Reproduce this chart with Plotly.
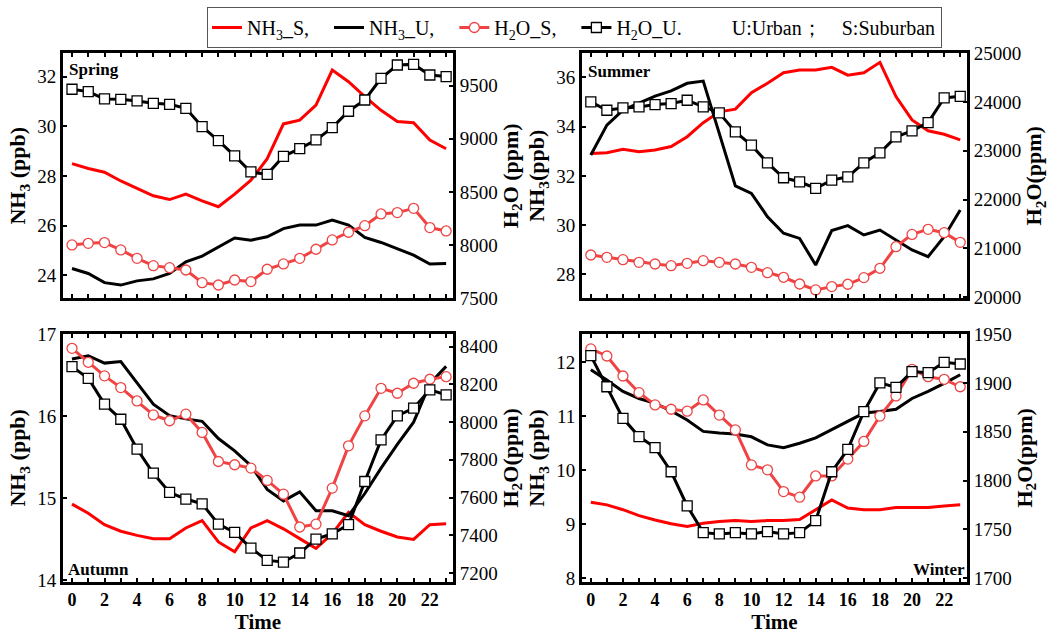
import plotly.graph_objects as go

hours = list(range(24))

# ---- Spring ----
spring_nh3_s = [28.5, 28.3, 28.15, 27.8, 27.5, 27.2, 27.05, 27.27, 27.0, 26.76, 27.27, 27.83, 28.7, 30.1, 30.25, 30.86, 32.27, 31.8, 31.2, 30.65, 30.2, 30.15, 29.45, 29.1]
spring_nh3_u = [24.27, 24.07, 23.7, 23.6, 23.77, 23.85, 24.07, 24.54, 24.77, 25.15, 25.5, 25.41, 25.55, 25.88, 26.02, 26.02, 26.22, 26.02, 25.52, 25.32, 25.08, 24.81, 24.45, 24.47]
spring_h2o_s = [8002, 8017, 8024, 7955, 7876, 7807, 7788, 7766, 7647, 7625, 7672, 7657, 7773, 7823, 7876, 7961, 8049, 8121, 8183, 8293, 8306, 8346, 8165, 8133]
spring_h2o_u = [9466, 9444, 9375, 9371, 9356, 9334, 9324, 9287, 9114, 8983, 8839, 8688, 8666, 8835, 8908, 8989, 9105, 9259, 9365, 9569, 9694, 9700, 9600, 9585]

# ---- Summer ----
summer_nh3_s = [32.91, 32.94, 33.08, 32.98, 33.05, 33.19, 33.59, 34.16, 34.6, 34.71, 35.38, 35.76, 36.19, 36.3, 36.3, 36.41, 36.09, 36.19, 36.61, 35.22, 34.27, 33.83, 33.69, 33.46]
summer_nh3_u = [32.85, 34.06, 34.67, 34.94, 35.24, 35.45, 35.76, 35.85, 33.7, 31.59, 31.29, 30.34, 29.67, 29.46, 28.38, 29.78, 29.98, 29.6, 29.8, 29.4, 28.99, 28.72, 29.53, 30.61]
summer_h2o_s = [20865, 20817, 20770, 20715, 20681, 20647, 20695, 20749, 20715, 20681, 20613, 20504, 20409, 20272, 20150, 20218, 20266, 20402, 20593, 21035, 21287, 21390, 21322, 21124]
summer_h2o_u = [23999, 23828, 23876, 23896, 23944, 23965, 24033, 23896, 23774, 23386, 23113, 22752, 22446, 22364, 22228, 22398, 22466, 22752, 22956, 23283, 23406, 23576, 24080, 24114]

# ---- Autumn ----
autumn_nh3_s = [14.93, 14.82, 14.68, 14.6, 14.55, 14.51, 14.51, 14.64, 14.73, 14.47, 14.35, 14.64, 14.73, 14.63, 14.51, 14.39, 14.57, 14.83, 14.68, 14.6, 14.53, 14.5, 14.68, 14.69]
autumn_nh3_u = [16.70, 16.74, 16.65, 16.67, 16.41, 16.15, 16.01, 15.97, 15.94, 15.73, 15.58, 15.40, 15.11, 14.97, 15.08, 14.85, 14.85, 14.79, 15.06, 15.37, 15.66, 15.93, 16.40, 16.61]
autumn_h2o_s = [8391, 8317, 8245, 8183, 8112, 8038, 8007, 8042, 7945, 7791, 7774, 7756, 7691, 7618, 7444, 7459, 7650, 7874, 8033, 8179, 8153, 8206, 8227, 8241]
autumn_h2o_u = [8294, 8232, 8095, 8015, 7857, 7729, 7627, 7592, 7567, 7459, 7415, 7332, 7267, 7258, 7306, 7380, 7408, 7456, 7685, 7906, 8033, 8074, 8171, 8144]

# ---- Winter ----
winter_nh3_s = [9.41, 9.36, 9.27, 9.16, 9.08, 9.01, 8.96, 9.02, 9.05, 9.07, 9.05, 9.07, 9.07, 9.09, 9.27, 9.45, 9.30, 9.27, 9.27, 9.31, 9.31, 9.31, 9.34, 9.36]
winter_nh3_u = [11.86, 11.67, 11.46, 11.33, 11.24, 11.10, 10.93, 10.72, 10.69, 10.67, 10.62, 10.47, 10.42, 10.50, 10.60, 10.75, 10.90, 11.06, 11.09, 11.13, 11.33, 11.46, 11.61, 11.77]
winter_h2o_s = [1934.7, 1927.5, 1907, 1890, 1877.4, 1873, 1871, 1882.5, 1867, 1851.8, 1816, 1811, 1788.7, 1783, 1804.7, 1804.7, 1822, 1840, 1866, 1886.6, 1913.8, 1906.3, 1903.6, 1896]
winter_h2o_u = [1927.8, 1896, 1863.7, 1845, 1833.7, 1809, 1774, 1746.7, 1745.4, 1746.7, 1745.4, 1747.8, 1745.4, 1746.7, 1759, 1809, 1832, 1870.5, 1900, 1895.4, 1911.5, 1910.4, 1921, 1919.3]

seasons = ["Spring", "Summer", "Autumn", "Winter"]
nh3_s = [spring_nh3_s, summer_nh3_s, autumn_nh3_s, winter_nh3_s]
nh3_u = [spring_nh3_u, summer_nh3_u, autumn_nh3_u, winter_nh3_u]
h2o_s = [spring_h2o_s, summer_h2o_s, autumn_h2o_s, winter_h2o_s]
h2o_u = [spring_h2o_u, summer_h2o_u, autumn_h2o_u, winter_h2o_u]

SP = "&nbsp;"
legend_names = ["NH<sub>3</sub>_S," + SP * 3, "NH<sub>3</sub>_U," + SP * 3, "H<sub>2</sub>O_S," + SP * 3,
                "H<sub>2</sub>O_U." + SP * 10 + "U:Urban；" + SP * 4 + "S:Suburban"]

left_titles = ["NH<sub>3</sub> (ppb)", "NH<sub>3</sub>(ppb)", "NH<sub>3</sub> (ppb)", "NH<sub>3</sub> (ppb)"]
right_titles = ["H<sub>2</sub>O (ppm)", "H<sub>2</sub>O(ppm)", "H<sub>2</sub>O(ppm)", "H<sub>2</sub>O(ppm)"]

left_ranges = [[23.06, 32.96], [27.02, 36.99], [13.985, 17.005], [7.937, 12.524]]
right_ranges = [[7498, 9807], [19975, 25000], [7154, 8467], [1696.5, 1950]]
left_dticks = [2, 2, 1, 1]
right_dticks = [500, 1000, 200, 50]

FONT = "Liberation Serif"
RED = "#ff0000"
LRED = "#f04444"

xdoms = [[0.0601, 0.4318], [0.5548, 0.9218], [0.0601, 0.4318], [0.5548, 0.9218]]
ydoms = [[0.5292, 0.9164], [0.5292, 0.9164], [0.0825, 0.4732], [0.0825, 0.4732]]

fig = go.Figure()
layout = {}
for i in range(4):
    xa = "x" if i == 0 else f"x{i+1}"
    yl = f"y{2*i+1}" if i > 0 else "y"
    yr = f"y{2*i+2}"
    show = (i == 0)
    fig.add_trace(go.Scatter(x=hours, y=nh3_s[i], mode="lines", line=dict(color=RED, width=3),
                             name=legend_names[0], legendgroup="a", showlegend=show, xaxis=xa, yaxis=yl))
    fig.add_trace(go.Scatter(x=hours, y=nh3_u[i], mode="lines", line=dict(color="black", width=3),
                             name=legend_names[1], legendgroup="b", showlegend=show, xaxis=xa, yaxis=yl))
    fig.add_trace(go.Scatter(x=hours, y=h2o_s[i], mode="lines+markers", line=dict(color=LRED, width=3),
                             marker=dict(symbol="circle", size=10, color="white", line=dict(color=LRED, width=1.3)),
                             name=legend_names[2], legendgroup="c", showlegend=show, xaxis=xa, yaxis=yr))
    fig.add_trace(go.Scatter(x=hours, y=h2o_u[i], mode="lines+markers", line=dict(color="black", width=3),
                             marker=dict(symbol="square", size=10, color="white", line=dict(color="black", width=1.3)),
                             name=legend_names[3], legendgroup="d", showlegend=show, xaxis=xa, yaxis=yr))

    xkey = "xaxis" if i == 0 else f"xaxis{i+1}"
    ylkey = "yaxis" if i == 0 else f"yaxis{2*i+1}"
    yrkey = f"yaxis{2*i+2}"
    bottom = i >= 2
    xa_dict = dict(
        domain=xdoms[i], anchor=yl, range=[-0.55, 23.42], dtick=2, tick0=0, automargin=False,
        showticklabels=bottom, ticks="inside", ticklen=4, tickwidth=1.5, tickcolor="black",
        minor=dict(dtick=1, ticks="inside", ticklen=4, tickwidth=1.5, tickcolor="black"),
        showline=True, linewidth=3, linecolor="black", mirror="ticks",
        showgrid=False, zeroline=False,
        tickfont=dict(family=FONT, size=18, color="black", weight="bold"),
    )
    if bottom:
        xa_dict["title"] = dict(text="Time", font=dict(family=FONT, size=21, color="black", weight="bold"), standoff=8)
    layout[xkey] = xa_dict
    layout[ylkey] = dict(
        domain=ydoms[i], anchor=xa, range=left_ranges[i], dtick=left_dticks[i], automargin=False,
        ticks="inside", ticklen=4, tickwidth=1.5, tickcolor="black",
        showline=True, linewidth=3, linecolor="black", mirror=False,
        showgrid=False, zeroline=False,
        tickfont=dict(family=FONT, size=19, color="black"),
        title=dict(text=left_titles[i], font=dict(family=FONT, size=22, color="black", weight="bold"), standoff=6),
    )
    layout[yrkey] = dict(
        overlaying=yl, anchor=xa, side="right", range=right_ranges[i], dtick=right_dticks[i], automargin=False,
        tickformat="d",
        ticks="inside", ticklen=4, tickwidth=1.5, tickcolor="black",
        showline=True, linewidth=3, linecolor="black",
        showgrid=False, zeroline=False,
        tickfont=dict(family=FONT, size=19, color="black"),
        title=dict(text=right_titles[i], font=dict(family=FONT, size=22, color="black", weight="bold"), standoff=4),
    )

annotations = [
    dict(text="<b>Spring</b>", x=0.0635, y=1 - 70 / 634, xref="paper", yref="paper", xanchor="left", yanchor="middle", showarrow=False, font=dict(family=FONT, size=17, color="black")),
    dict(text="<b>Summer</b>", x=0.5585, y=1 - 72 / 634, xref="paper", yref="paper", xanchor="left", yanchor="middle", showarrow=False, font=dict(family=FONT, size=17, color="black")),
    dict(text="<b>Autumn</b>", x=0.0625, y=1 - 569 / 634, xref="paper", yref="paper", xanchor="left", yanchor="middle", showarrow=False, font=dict(family=FONT, size=17, color="black")),
    dict(text="<b>Winter</b>", x=0.9215, y=1 - 569 / 634, xref="paper", yref="paper", xanchor="right", yanchor="middle", showarrow=False, font=dict(family=FONT, size=17, color="black")),
]

fig.update_layout(
    width=1049, height=634,
    margin=dict(l=0, r=0, t=0, b=0, autoexpand=False),
    paper_bgcolor="white", plot_bgcolor="white",
    font=dict(family=FONT, color="black"),
    showlegend=True,
    legend=dict(orientation="h", x=207 / 1049, y=1 - 7 / 634, xanchor="left", yanchor="top",
                bordercolor="#555555", borderwidth=1, bgcolor="white",
                font=dict(family=FONT, size=20, color="black"), tracegroupgap=0),
    annotations=annotations,
    **layout,
)

fig.write_html("out.html", config={"displayModeBar": False},
               post_script="document.body.style.margin='0';document.body.style.padding='0';document.body.style.overflow='hidden';")
